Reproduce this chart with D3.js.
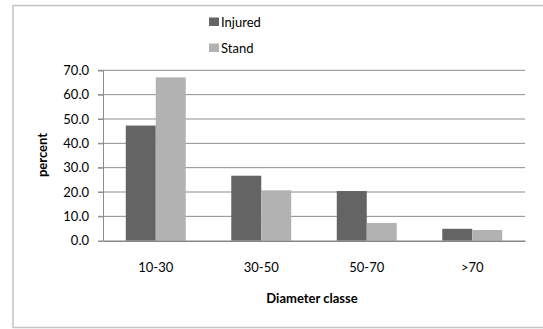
<!DOCTYPE html>
<html><head><meta charset="utf-8">
<script src="https://cdn.jsdelivr.net/npm/d3@7"></script>
<style>body{margin:0;background:#fff;} text{font-family:Lato,"Open Sans",sans-serif;}</style>
</head><body>
<svg id="c" width="543" height="329"></svg>
<script>
const categories = ["10-30","30-50","50-70",">70"];
const seriesNames = ["Injured","Stand"];
const injured = [47.3, 26.7, 20.4, 4.9];
const stand = [67.1, 20.7, 7.3, 4.4];
const yTicks = [0,10,20,30,40,50,60,70];
const colors = ["#646464","#b2b2b2"];

const svg = d3.select("#c");
svg.append("rect").attr("x",13).attr("y",5.5).attr("width",560).attr("height",322)
  .attr("fill","#fff").attr("stroke","#c4c4c4").attr("stroke-width",1.5);

const m = {l:103, r:525, t:70.3, b:240.7};
const x = d3.scaleBand().domain(categories).range([m.l,m.r]).paddingInner(0).paddingOuter(0);
const x1 = d3.scaleBand().domain(seriesNames).range([0,x.bandwidth()]).paddingInner(0).paddingOuter(0.76);
const y = d3.scaleLinear().domain([0,70]).range([m.b,m.t]);

// gridlines
svg.append("g").selectAll("line").data(yTicks.filter(d=>d>0)).join("line")
  .attr("x1",98).attr("x2",m.r).attr("y1",d=>y(d)).attr("y2",d=>y(d))
  .attr("stroke","#8c8c8c").attr("stroke-width",1);

// y axis
const ya = svg.append("g").attr("transform",`translate(${m.l},0)`)
  .call(d3.axisLeft(y).tickValues(yTicks).tickFormat(d3.format(".1f")).tickSize(5).tickPadding(9));
ya.select(".domain").attr("stroke","#8c8c8c");
ya.selectAll(".tick line").attr("stroke","#8c8c8c");
ya.selectAll("text").attr("font-size",13).attr("fill","#000").style("font-family","Lato");

// bars
const data = categories.map((c,i)=>({c, vals:[{s:"Injured",v:injured[i]},{s:"Stand",v:stand[i]}]}));
const g = svg.append("g").selectAll("g").data(data).join("g")
  .attr("transform",d=>`translate(${x(d.c)},0)`);
g.selectAll("rect").data(d=>d.vals).join("rect")
  .attr("x",d=>x1(d.s)).attr("width",x1.bandwidth())
  .attr("y",d=>y(d.v)).attr("height",d=>y(0)-y(d.v))
  .attr("fill",(d,i)=>colors[i]);

// x axis
const xa = svg.append("g").attr("transform",`translate(0,${m.b})`)
  .call(d3.axisBottom(x).tickSize(0).tickPadding(22));
xa.select(".domain").attr("stroke","#868686").attr("stroke-width",1.5);
xa.selectAll("text").attr("font-size",13).attr("fill","#000").style("font-family","Lato");

// axis titles
svg.append("text").attr("x",312).attr("y",303).attr("text-anchor","middle")
  .attr("font-size",13).attr("font-weight","bold").text("Diameter classe");
svg.append("text").attr("transform","translate(47,155) rotate(-90)").attr("text-anchor","middle")
  .attr("font-size",13).attr("font-weight","bold").text("percent");

// legend
const lg = svg.append("g").selectAll("g").data(seriesNames).join("g")
  .attr("transform",(d,i)=>`translate(209,${17.5+i*26})`);
lg.append("rect").attr("width",10).attr("height",8.5).attr("fill",(d,i)=>colors[i]);
lg.append("text").attr("x",12).attr("y",9).attr("font-size",13).text(d=>d);
</script>
</body></html>
